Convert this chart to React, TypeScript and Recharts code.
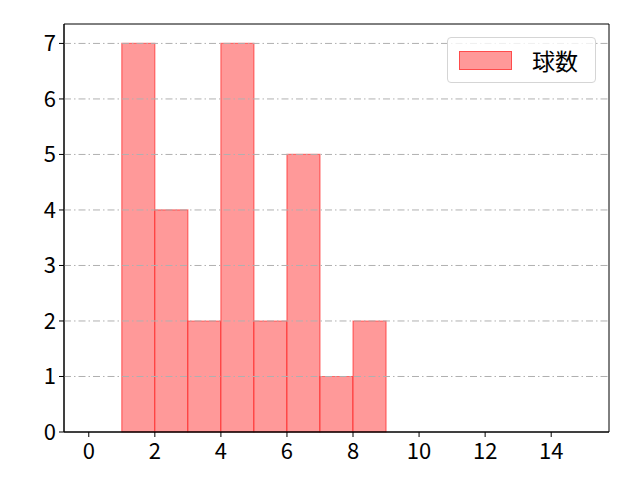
import {
  ComposedChart,
  XAxis,
  YAxis,
  ReferenceArea,
  ReferenceLine,
  Line,
} from "recharts";

const BIN_STARTS = [1, 2, 3, 4, 5, 6, 7, 8];
const BIN_ENDS = [2, 3, 4, 5, 6, 7, 8, 9];
const COUNTS = [7, 4, 2, 7, 2, 5, 1, 2];
const X_TICKS = [0, 2, 4, 6, 8, 10, 12, 14];
const Y_TICKS = [0, 1, 2, 3, 4, 5, 6, 7];
const X_DOMAIN: [number, number] = [-0.75, 15.75];
const Y_DOMAIN: [number, number] = [0, 7.35];
const LEGEND_LABEL = "球数";

const FONT = "'Noto Sans CJK JP', 'Noto Sans', sans-serif";
const FILL = "#ff9999";
const EDGE = "rgba(255, 0, 0, 0.5)";

const data = BIN_STARTS.map((s, i) => ({ x: (s + BIN_ENDS[i]) / 2, y: COUNTS[i] }));

const tickText = { fontSize: "22px", fontFamily: FONT, fill: "#000" };

function renderXTick(props: any) {
  const { x, y, payload } = props;
  return (
    <text x={x} y={y + 20} textAnchor="middle" style={tickText}>
      {payload.value}
    </text>
  );
}

function renderYTick(props: any) {
  const { x, y, payload } = props;
  return (
    <text x={x - 1} y={y + 8} textAnchor="end" style={tickText}>
      {payload.value}
    </text>
  );
}

export default function App() {
  return (
    <div
      style={{
        position: "absolute",
        left: 0,
        top: 0,
        width: 640,
        height: 480,
        background: "#fff",
        fontFamily: FONT,
      }}
    >
      <ComposedChart
        width={640}
        height={480}
        data={data}
        margin={{ top: 24, right: 31, left: 0, bottom: 0 }}
      >
        <XAxis
          dataKey="x"
          type="number"
          domain={X_DOMAIN}
          ticks={X_TICKS}
          allowDataOverflow
          height={48}
          tick={renderXTick}
          tickSize={5}
          axisLine={{ stroke: "#000" }}
          tickLine={{ stroke: "#000" }}
        />
        <YAxis
          type="number"
          domain={Y_DOMAIN}
          ticks={Y_TICKS}
          allowDataOverflow
          width={64}
          tick={renderYTick}
          tickSize={5}
          axisLine={{ stroke: "#000" }}
          tickLine={{ stroke: "#000" }}
        />
        {BIN_STARTS.map((s, i) => (
          <ReferenceArea
            key={s}
            x1={s}
            x2={BIN_ENDS[i]}
            y1={0}
            y2={COUNTS[i]}
            fill={FILL}
            fillOpacity={1}
            stroke={EDGE}
            strokeWidth={1.2}
            ifOverflow="visible"
          />
        ))}
        {Y_TICKS.filter((v) => v > 0).map((v) => (
          <ReferenceLine
            key={"g" + v}
            y={v}
            stroke="#b0b0b0"
            strokeWidth={1}
            strokeDasharray="7 3 1.5 3"
          />
        ))}
        <ReferenceArea
          x1={X_DOMAIN[0]}
          x2={X_DOMAIN[1]}
          y1={Y_DOMAIN[0]}
          y2={Y_DOMAIN[1]}
          fill="none"
          stroke="#000"
          strokeWidth={1}
          ifOverflow="visible"
        />
        <Line
          dataKey="y"
          stroke="none"
          dot={false}
          activeDot={false}
          isAnimationActive={false}
          legendType="none"
        />
      </ComposedChart>
      <div
        style={{
          position: "absolute",
          left: 447,
          top: 37,
          width: 149,
          height: 46,
          boxSizing: "border-box",
          border: "1px solid #d5d5d5",
          borderRadius: 4,
          background: "rgba(255,255,255,0.8)",
          display: "flex",
          alignItems: "center",
        }}
      >
        <div
          style={{
            marginLeft: 11,
            width: 53,
            height: 19,
            background: FILL,
            border: "1px solid " + EDGE,
            boxSizing: "border-box",
          }}
        />
        <span style={{ marginLeft: 20, fontSize: 23, color: "#000", lineHeight: 1 }}>
          {LEGEND_LABEL}
        </span>
      </div>
    </div>
  );
}
